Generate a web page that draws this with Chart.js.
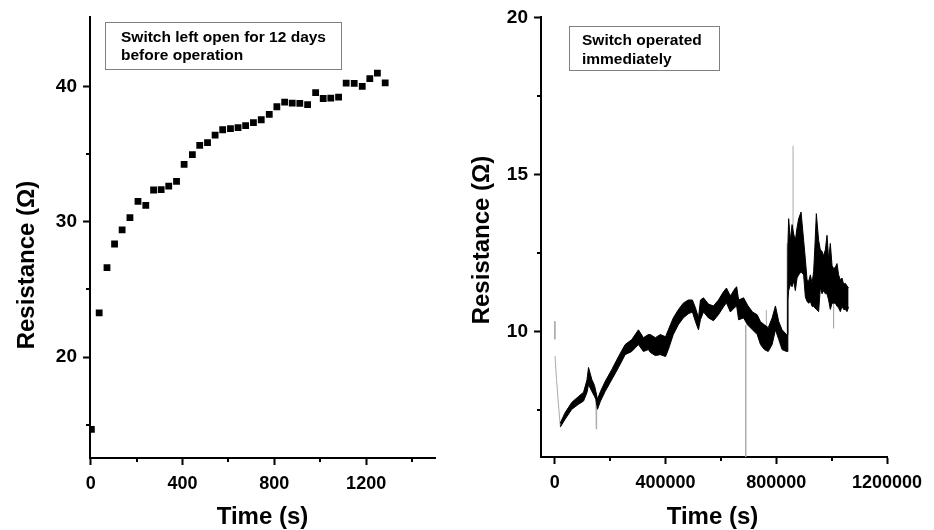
<!DOCTYPE html>
<html lang="en">
<head>
<meta charset="UTF-8">
<title>Switch resistance vs time</title>
<script src="https://cdn.jsdelivr.net/npm/chart.js"></script>
<style>
  html, body { margin: 0; padding: 0; background: #fff; }
  .wrap { position: relative; width: 934px; height: 530px; }
  .wrap canvas { position: absolute; top: 0; }
  #leftChart { left: 0; }
  #rightChart { left: 467px; }
</style>
</head>
<body>
<div class="wrap">
  <canvas id="leftChart" width="467" height="530"></canvas>
  <canvas id="rightChart" width="467" height="530"></canvas>
</div>
<script>
// left panel - switch left open for 12 days
const openTime = [3, 37, 71, 104, 137, 171, 206, 240, 274, 307, 340, 374, 407, 443, 475, 509, 542, 575, 609, 642,
  675, 709, 743, 778, 811, 845, 878, 911, 945, 980, 1013, 1046, 1080, 1113, 1148, 1183, 1216, 1249, 1283];
const openRes = [14.66, 23.27, 26.62, 28.36, 29.4, 30.31, 31.51, 31.22, 32.35, 32.38, 32.64, 32.99, 34.24, 34.96, 35.65, 35.85, 36.41, 36.8, 36.88, 36.95,
  37.1, 37.32, 37.54, 37.93, 38.5, 38.84, 38.77, 38.75, 38.65, 39.54, 39.11, 39.14, 39.21, 40.24, 40.22, 40.0, 40.57, 40.98, 40.27];
const leftXMajor = [0, 400, 800, 1200];
const leftXMinor = [200, 600, 1000, 1400];
const leftYMajor = [20, 30, 40];
const leftYMinor = [15, 25, 35];

// right panel - switch operated immediately (noisy trace as upper / lower envelope)
const traceTime = [19500, 37500, 61400, 85600, 103600, 116000, 121700, 133600, 143300, 148000,
  154000, 165000, 182000, 206000, 230000, 254000, 278000, 302000, 320000, 338000,
  345000, 363000, 381000, 400000, 410000, 428000, 446000, 464000, 482000, 497000,
  508000, 519000, 526000, 537000, 555000, 573000, 591000, 609000, 620000, 634000,
  652000, 657000, 664000, 682000, 696000, 714000, 731000, 743000, 757000, 771000, 785000,
  797000, 809000, 821000, 837000, 839000, 841800,
  844700, 850900, 857000, 862800, 868900, 875000, 880800, 889500, 898900, 905000,
  911200, 917000, 923100, 929200, 935000, 940000, 944700, 953000, 959100, 965300,
  971000, 977200, 983300, 989100, 995300, 1001400, 1007100, 1013300, 1019400, 1025200,
  1031400, 1037500, 1043300, 1049400, 1055500, 1061300];
const traceUpper = [7.08, 7.42, 7.74, 7.93, 8.06, 8.45, 8.85, 8.47, 8.28, 8.09,
  7.84, 8.09, 8.41, 8.79, 9.20, 9.58, 9.74, 10.05, 9.80, 9.90,
  9.90, 9.80, 9.90, 9.83, 10.05, 10.43, 10.69, 10.90, 11.00, 11.00,
  10.75, 10.43, 11.00, 11.07, 10.87, 10.81, 11.00, 11.26, 11.38, 11.13,
  11.38, 11.42, 11.00, 11.07, 10.84, 10.62, 10.53, 10.31, 10.21, 10.12, 10.43,
  10.81, 10.31, 10.05, 9.90, 9.90, 12.70,
  13.59, 12.90, 13.40, 13.10, 12.90, 13.30, 13.59, 13.80, 12.90, 12.30,
  11.64, 11.60, 11.80, 11.54, 11.90, 12.80, 13.75, 12.90, 12.60, 12.55,
  12.40, 12.60, 13.06, 12.30, 12.80, 12.10, 12.00, 12.04, 12.16, 11.80,
  11.64, 11.70, 11.50, 11.53, 11.45, 11.38];
const traceLower = [6.95, 7.21, 7.52, 7.68, 7.78, 8.05, 8.31, 8.09, 7.93, 7.84,
  7.52, 7.78, 8.09, 8.47, 8.85, 9.26, 9.36, 9.58, 9.36, 9.42,
  9.33, 9.23, 9.26, 9.20, 9.42, 9.90, 10.21, 10.43, 10.56, 10.62,
  10.31, 10.05, 10.37, 10.62, 10.43, 10.34, 10.53, 10.78, 10.91, 10.62,
  10.78, 10.80, 10.37, 10.43, 10.21, 10.05, 9.90, 9.58, 9.42, 9.36, 9.58,
  10.05, 9.74, 9.42, 9.36, 9.36, 11.00,
  11.30, 11.50, 11.42, 11.60, 11.30, 11.70, 11.80, 11.90, 11.80, 11.10,
  10.95, 10.90, 10.95, 10.80, 10.79, 10.75, 10.70, 10.63, 11.40, 11.20,
  11.30, 11.20, 11.20, 11.00, 10.70, 10.90, 10.90, 10.90, 10.80, 10.75,
  10.63, 10.80, 10.70, 10.70, 10.63, 10.78];
// thin grey parts: start-up decay and single spikes (null = break)
const spikeTime = [0, 0, 0, 0, 700, 6100, 11600, 19500, 19500, 148000, 149500, 151000, 151000, 689500, 689500, 689500,
  764000, 764000, 764000, 839000, 839000, 839000, 860600, 860600, 860600, 1007000, 1007000];
const spikeRes = [10.32, 9.75, null, 9.2, 9.21, 8.47, 7.84, 6.99, null, 8.09, 6.89, 7.6, null, 10.2, 6.0, null,
  9.5, 10.68, null, 9.6, 12.8, null, 12.2, 15.91, null, 11.0, 10.1];
const rightXMajor = [0, 400000, 800000, 1200000];
const rightXMinor = [200000, 600000, 1000000];
const rightYMajor = [10, 15, 20];
const rightYMinor = [7.5, 12.5, 17.5];

Chart.defaults.font.family = '"Liberation Sans", Arial, sans-serif';
Chart.defaults.color = '#000';

// short minor ticks
const minorTicks = {
  id: 'minorTicks',
  afterDatasetsDraw(chart, args, opts) {
    const ctx = chart.ctx;
    const { left, bottom } = chart.chartArea;
    ctx.save();
    ctx.strokeStyle = '#000';
    ctx.lineWidth = 2;
    opts.x.forEach(v => {
      const px = Math.round(chart.scales.x.getPixelForValue(v));
      ctx.beginPath(); ctx.moveTo(px, bottom); ctx.lineTo(px, bottom + 4); ctx.stroke();
    });
    opts.y.forEach(v => {
      const py = Math.round(chart.scales.y.getPixelForValue(v));
      ctx.beginPath(); ctx.moveTo(left, py); ctx.lineTo(left - 4, py); ctx.stroke();
    });
    ctx.restore();
  }
};

// note box and axis titles
const panelText = {
  id: 'panelText',
  afterDraw(chart, args, opts) {
    const ctx = chart.ctx;
    const b = opts.box;
    ctx.save();
    ctx.fillStyle = '#fff';
    ctx.fillRect(b.x, b.y, b.w, b.h);
    ctx.strokeStyle = '#808080';
    ctx.lineWidth = 1;
    ctx.strokeRect(b.x + 0.5, b.y + 0.5, b.w, b.h);
    ctx.fillStyle = '#000';
    ctx.font = 'bold 15.5px "Liberation Sans", Arial, sans-serif';
    ctx.textBaseline = 'alphabetic';
    ctx.textAlign = 'left';
    opts.note.forEach((line, i) => ctx.fillText(line, b.tx, b.ty + i * 18.8));

    ctx.font = 'bold 24px "Liberation Sans", Arial, sans-serif';
    ctx.textAlign = 'center';
    ctx.fillText('Time (s)', opts.xTitle[0], opts.xTitle[1]);
    ctx.translate(opts.yTitle[0], opts.yTitle[1]);
    ctx.rotate(-Math.PI / 2);
    ctx.fillText('Resistance (\u03A9)', 0, 0);
    ctx.restore();
  }
};

function axis(min, max, major, fixSize, fontSize, pad) {
  return {
    type: 'linear',
    min: min,
    max: max,
    afterBuildTicks: s => { s.ticks = major.map(v => ({ value: v })); },
    afterFit: fixSize,
    border: { display: true, color: '#000', width: 2 },
    grid: { display: true, drawOnChartArea: false, drawTicks: true, tickLength: 7, tickWidth: 2, tickColor: '#000' },
    ticks: {
      font: { size: fontSize, weight: 'bold' },
      color: '#000',
      padding: pad,
      maxRotation: 0,
      autoSkip: false,
      callback: v => String(v)
    }
  };
}

new Chart(document.getElementById('leftChart'), {
  type: 'scatter',
  data: {
    datasets: [{
      data: openTime.map((t, i) => ({ x: t, y: openRes[i] })),
      pointStyle: 'rect',
      pointRadius: 4.8,
      backgroundColor: '#000',
      borderColor: '#000',
      borderWidth: 0
    }]
  },
  options: {
    responsive: false,
    animation: false,
    events: [],
    layout: { padding: { top: 17, right: 32, left: 0, bottom: 0 } },
    scales: {
      x: axis(-3, 1500, leftXMajor, s => { s.height = 72; }, 18, 8),
      y: axis(12.55, 45.1, leftYMajor, s => { s.width = 90; }, 19, 6)
    },
    plugins: {
      legend: { display: false },
      tooltip: { enabled: false },
      minorTicks: { x: leftXMinor, y: leftYMinor },
      panelText: {
        box: { x: 105, y: 22, w: 236, h: 47, tx: 121, ty: 41.5 },
        note: ['Switch left open for 12 days', 'before operation'],
        xTitle: [262.5, 524],
        yTitle: [33.5, 265]
      }
    }
  },
  plugins: [minorTicks, panelText]
});

new Chart(document.getElementById('rightChart'), {
  type: 'line',
  data: {
    datasets: [{
      data: traceTime.map((t, i) => ({ x: t, y: traceUpper[i] })),
      borderColor: '#000',
      borderWidth: 1,
      pointRadius: 0,
      fill: false,
      order: 1
    }, {
      data: traceTime.map((t, i) => ({ x: t, y: traceLower[i] })),
      borderColor: '#000',
      borderWidth: 1,
      pointRadius: 0,
      backgroundColor: '#000',
      fill: '-1',
      order: 1
    }, {
      data: spikeTime.map((t, i) => ({ x: t, y: spikeRes[i] })),
      borderColor: '#aaaaaa',
      borderWidth: 1,
      pointRadius: 0,
      fill: false,
      spanGaps: false,
      order: 2
    }]
  },
  options: {
    responsive: false,
    animation: false,
    events: [],
    layout: { padding: { top: 16, right: 47, left: 0, bottom: 0 } },
    scales: {
      x: axis(-50000, 1200000, rightXMajor, s => { s.height = 73; }, 18, 8),
      y: axis(6, 20, rightYMajor, s => { s.width = 74; }, 19, 6)
    },
    plugins: {
      legend: { display: false },
      tooltip: { enabled: false },
      minorTicks: { x: rightXMinor, y: rightYMinor },
      panelText: {
        box: { x: 102, y: 26, w: 150, h: 44, tx: 115, ty: 45 },
        note: ['Switch operated', 'immediately'],
        xTitle: [245.5, 524],
        yTitle: [22, 240]
      }
    }
  },
  plugins: [minorTicks, panelText]
});
</script>
</body>
</html>
